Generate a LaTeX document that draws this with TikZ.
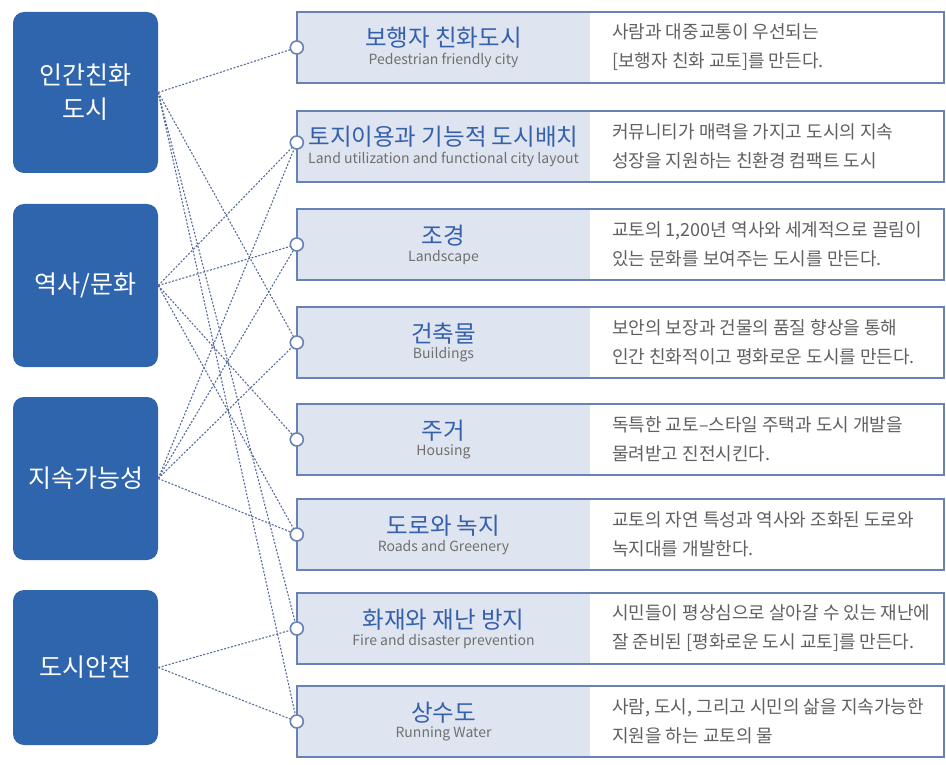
\documentclass[tikz,border=0pt]{standalone}
\usepackage{fontspec}
\setmainfont{Noto Sans CJK KR}
\usepackage{tikz}
\definecolor{gb}{RGB}{46, 101, 172}
\definecolor{cc}{RGB}{222, 228, 240}
\definecolor{fr}{RGB}{104, 130, 182}
\definecolor{ln}{RGB}{86, 106, 156}
\definecolor{tt}{RGB}{52, 96, 172}
\definecolor{st}{RGB}{112, 112, 112}
\definecolor{ds}{RGB}{96, 96, 96}
\usetikzlibrary{positioning}
\newcommand{\cardtext}[2]{{\color{tt}\fontsize{23.5}{25}\selectfont #1}\\[3pt]{\color{st}\fontsize{14}{15}\selectfont #2}}

\begin{document}
\begin{tikzpicture}[
group/.style={rectangle, rounded corners=11pt, fill=gb, minimum width=145pt, text=white, align=center, font=\fontsize{25}{34}\selectfont, inner sep=0pt},
titlebox/.style={rectangle, fill=cc, minimum width=293pt, minimum height=71pt, align=center, inner sep=0pt},
desc/.style={anchor=west, align=left, text=ds, font=\fontsize{18}{29}\selectfont, inner sep=0pt},
frame/.style={line width=1.6pt, draw=fr},
dot/.style={circle, minimum size=13pt, fill=white, line width=1.6pt, draw=fr, inner sep=0pt},
link/.style={line width=1.1pt, color=ln, dash pattern=on 2pt off 1.6pt}]
\useasboundingbox (0pt, 0pt) rectangle (946pt, -765pt);
\node (g1) [group, minimum height=161pt] at (85.5pt, -92.5pt) {인간친화\\도시};
\node (g2) [group, minimum height=163pt] at (85.5pt, -285.5pt) {역사/문화};
\node (g3) [group, minimum height=163pt] at (85.5pt, -478.5pt) {지속가능성};
\node (g4) [group, minimum height=155pt] at (85.5pt, -667.5pt) {도시안전};
\node (t1) [titlebox] at (443.5pt, -47.5pt) {\cardtext{보행자 친화도시}{Pedestrian friendly city}};
\node (t2) [titlebox] at (443.5pt, -146.5pt) {\cardtext{토지이용과 기능적 도시배치}{Land utilization and functional city layout}};
\node (t3) [titlebox] at (443.5pt, -244.5pt) {\cardtext{조경}{Landscape}};
\node (t4) [titlebox] at (443.5pt, -342.5pt) {\cardtext{건축물}{Buildings}};
\node (t5) [titlebox] at (443.5pt, -439.5pt) {\cardtext{주거}{Housing}};
\node (t6) [titlebox] at (443.5pt, -534.5pt) {\cardtext{도로와 녹지}{Roads and Greenery}};
\node (t7) [titlebox] at (443.5pt, -628.5pt) {\cardtext{화재와 재난 방지}{Fire and disaster prevention}};
\node (t8) [titlebox] at (443.5pt, -721.5pt) {\cardtext{상수도}{Running Water}};
\node (d1) [desc] at (612pt, -47.5pt) {사람과 대중교통이 우선되는\\{}[보행자 친화 교토]를 만든다.};
\node (d2) [desc] at (612pt, -146.5pt) {커뮤니티가 매력을 가지고 도시의 지속\\성장을 지원하는 친환경 컴팩트 도시};
\node (d3) [desc] at (612pt, -244.5pt) {교토의 1,200년 역사와 세계적으로 끌림이\\있는 문화를 보여주는 도시를 만든다.};
\node (d4) [desc] at (612pt, -342.5pt) {보안의 보장과 건물의 품질 향상을 통해\\인간 친화적이고 평화로운 도시를 만든다.};
\node (d5) [desc] at (612pt, -439.5pt) {독특한 교토–스타일 주택과 도시 개발을\\물려받고 진전시킨다.};
\node (d6) [desc] at (612pt, -534.5pt) {교토의 자연 특성과 역사와 조화된 도로와\\녹지대를 개발한다.};
\node (d7) [desc] at (612pt, -628.5pt) {시민들이 평상심으로 살아갈 수 있는 재난에\\잘 준비된 [평화로운 도시 교토]를 만든다.};
\node (d8) [desc] at (612pt, -721.5pt) {사람, 도시, 그리고 시민의 삶을 지속가능한\\지원을 하는 교토의 물};
\draw [frame] (t1.north west) rectangle ++(647pt, -71pt);
\draw [frame] (t2.north west) rectangle ++(647pt, -71pt);
\draw [frame] (t3.north west) rectangle ++(647pt, -71pt);
\draw [frame] (t4.north west) rectangle ++(647pt, -71pt);
\draw [frame] (t5.north west) rectangle ++(647pt, -71pt);
\draw [frame] (t6.north west) rectangle ++(647pt, -71pt);
\draw [frame] (t7.north west) rectangle ++(647pt, -71pt);
\draw [frame] (t8.north west) rectangle ++(647pt, -71pt);
\node (c1) [dot] at (t1.west) {};
\node (c2) [dot] at ([yshift=4pt]t2.west) {};
\node (c3) [dot] at (t3.west) {};
\node (c4) [dot] at (t4.west) {};
\node (c5) [dot] at (t5.west) {};
\node (c6) [dot] at (t6.west) {};
\node (c7) [dot] at (t7.west) {};
\node (c8) [dot] at (t8.west) {};
\draw [link] (g1.east) to (c1);
\draw [link] (g1.east) to (c4);
\draw [link] (g1.east) to (c7);
\draw [link] (g1.east) to (c8);
\draw [link] (g2.east) to (c2);
\draw [link] (g2.east) to (c3);
\draw [link] (g2.east) to (c5);
\draw [link] (g2.east) to (c6);
\draw [link] (g3.east) to (c2);
\draw [link] (g3.east) to (c3);
\draw [link] (g3.east) to (c4);
\draw [link] (g3.east) to (c6);
\draw [link] (g4.east) to (c7);
\draw [link] (g4.east) to (c8);
\end{tikzpicture}
\end{document}
